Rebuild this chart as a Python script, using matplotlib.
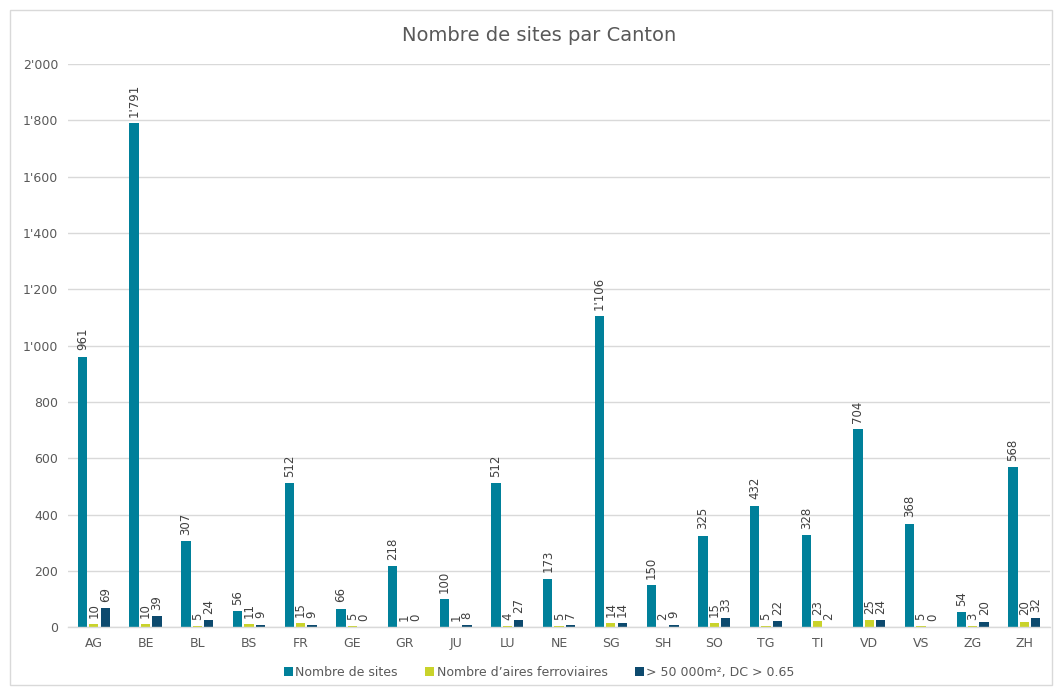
import numpy as np
import matplotlib.pyplot as plt
from matplotlib.ticker import FuncFormatter
from matplotlib.patches import Rectangle

cantons = ["AG", "BE", "BL", "BS", "FR", "GE", "GR", "JU", "LU", "NE",
           "SG", "SH", "SO", "TG", "TI", "VD", "VS", "ZG", "ZH"]
nb_sites = [961, 1791, 307, 56, 512, 66, 218, 100, 512, 173,
            1106, 150, 325, 432, 328, 704, 368, 54, 568]
nb_ferro = [10, 10, 5, 11, 15, 5, 1, 1, 4, 5,
            14, 2, 15, 5, 23, 25, 5, 3, 20]
nb_grands = [69, 39, 24, 9, 9, 0, 0, 8, 27, 7,
             14, 9, 33, 22, 2, 24, 0, 20, 32]

series = [
    ("Nombre de sites", nb_sites, "#00809A"),
    ("Nombre d\u2019aires ferroviaires", nb_ferro, "#C9D32B"),
    ("> 50 000m\u00b2, DC > 0.65", nb_grands, "#0D4A6E"),
]

grey = "#595959"
plt.rcParams['font.family'] = ['DejaVu Sans']


def fmt(v):
    return f"{int(v):,}".replace(",", "'")


fig = plt.figure(figsize=(10.62, 6.87), dpi=100)
ax = fig.add_axes([0.064, 0.087, 0.925, 0.82])

x = np.arange(len(cantons))
w = 0.18
step = 0.22
for i, (name, vals, col) in enumerate(series):
    pos = x + (i - 1) * step
    ax.bar(pos, vals, width=w, color=col, label=name, zorder=2)
    for xp, v in zip(pos, vals):
        ax.text(xp, v + 22, fmt(v), rotation=90, ha="center", va="bottom",
                fontsize=8.5, color="#404040")

ax.set_xlim(-0.5, len(cantons) - 0.5)
ax.set_ylim(0, 2000)
ax.set_yticks(np.arange(0, 2001, 200))
ax.yaxis.set_major_formatter(FuncFormatter(lambda v, p: fmt(v)))
ax.set_xticks(x)
ax.set_xticklabels(cantons)
ax.tick_params(axis="both", length=0, labelsize=9, colors=grey, pad=7)
ax.grid(axis="y", color="#D9D9D9", linewidth=1, zorder=0)
for s in ["top", "right", "left"]:
    ax.spines[s].set_visible(False)
ax.spines["bottom"].set_color("#D9D9D9")
ax.spines["bottom"].set_linewidth(1)

fig.text(0.508, 0.948, "Nombre de sites par Canton", ha="center", va="center",
         fontsize=14, color=grey)

fig.legend(loc="lower center", bbox_to_anchor=(0.508, -0.005), ncol=3,
           frameon=False, fontsize=9, handlelength=0.7, handleheight=0.7,
           handletextpad=0.2, columnspacing=2.2, labelcolor=grey)

fig.patches.append(Rectangle((10 / 1062, 2 / 687), 1042 / 1062, 675 / 687,
                             transform=fig.transFigure, fill=False,
                             edgecolor="#D9D9D9", linewidth=1))

fig.savefig("out.png", dpi=100)
